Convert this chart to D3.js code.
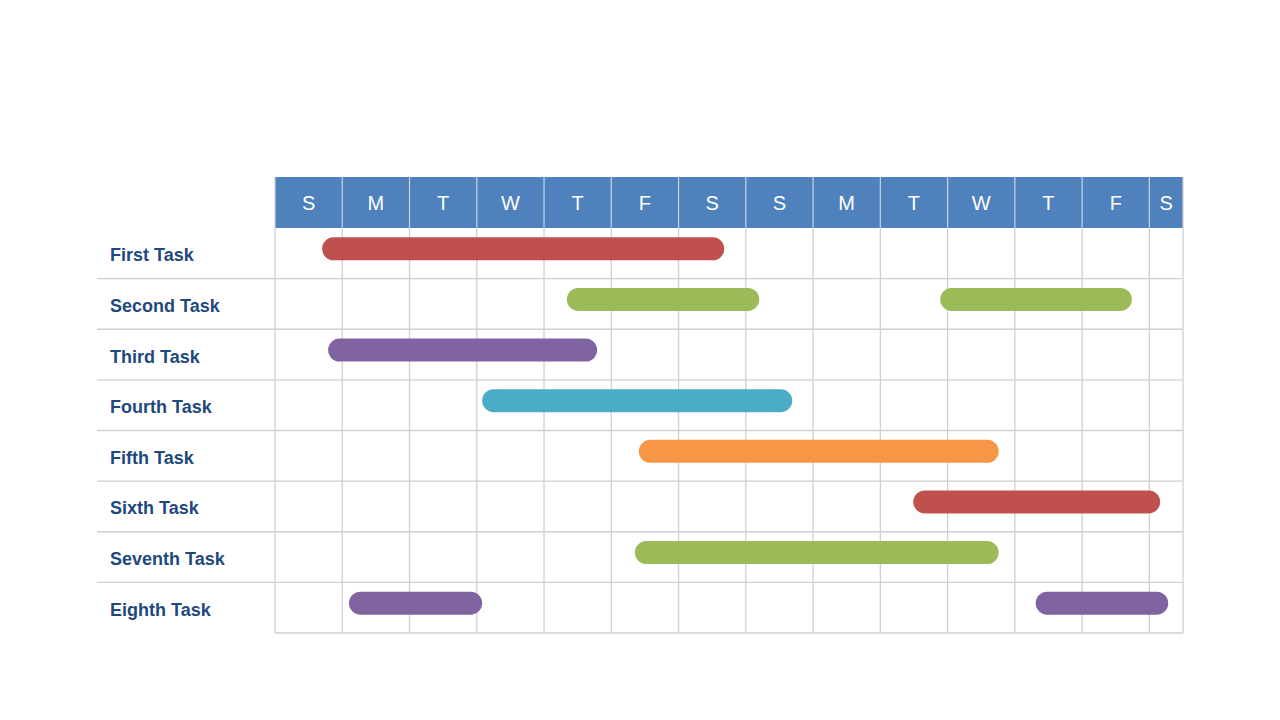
<!DOCTYPE html>
<html><head><meta charset="utf-8">
<script src="https://cdn.jsdelivr.net/npm/d3@7"></script>
<style>body{margin:0;background:#fff;}svg{display:block;}</style>
</head><body>
<svg id="chart" width="1280" height="720"></svg>
<script>
const days = ["S","M","T","W","T","F","S","S","M","T","W","T","F","S"];
const tasks = ["First Task","Second Task","Third Task","Fourth Task","Fifth Task","Sixth Task","Seventh Task","Eighth Task"];
// bars: [task index, start day, end day, color]
const barTask  = [0, 1, 1, 2, 3, 4, 5, 6, 7, 7];
const barStart = [0.70, 4.34, 9.89, 0.79, 3.08, 5.41, 9.49, 5.35, 1.10, 11.31];
const barEnd   = [6.68, 7.20, 12.74, 4.79, 7.69, 10.76, 13.16, 10.76, 3.08, 13.28];
const barColor = ["#C0504D","#9BBB59","#9BBB59","#8064A2","#4BACC6","#F79646","#C0504D","#9BBB59","#8064A2","#8064A2"];
const totalDays = 13.5;

const svg = d3.select("#chart");
const left = 275, right = 1183, labelLeft = 97;
const headTop = 177, headBottom = 228, gridBottom = 633;

const x = d3.scaleLinear().domain([0, totalDays]).range([left, right]);
const y = d3.scaleBand().domain(d3.range(tasks.length)).range([headBottom, gridBottom]);

// header
svg.append("rect").attr("x", left).attr("y", headTop).attr("width", right-left).attr("height", headBottom-headTop).attr("fill", "#4F81BD");
const dayG = svg.append("g");
days.forEach((d,i)=>{
  const x0 = x(i), x1 = x(Math.min(i+1, totalDays));
  dayG.append("text").attr("x",(x0+x1)/2).attr("y",(headTop+headBottom)/2+7)
    .attr("text-anchor","middle").attr("fill","#fff")
    .attr("font-family","Liberation Sans, Arial, sans-serif").attr("font-size",20).text(d);
  if(i>0) dayG.append("line").attr("x1",x0).attr("x2",x0).attr("y1",headTop).attr("y2",headBottom)
    .attr("stroke","#C9D3E3").attr("stroke-width",1.2);
});

// grid
const grid = svg.append("g").attr("stroke","#D0D0D0").attr("stroke-width",1.3);
for(let i=0;i<=13;i++){
  grid.append("line").attr("x1",x(i)).attr("x2",x(i)).attr("y1",i===0?headTop:headBottom).attr("y2",gridBottom);
}
grid.append("line").attr("x1",right).attr("x2",right).attr("y1",headTop).attr("y2",gridBottom);
for(let r=1;r<=tasks.length;r++){
  const yy = r===tasks.length ? gridBottom : y(r);
  grid.append("line").attr("x1", r===tasks.length?left:labelLeft).attr("x2",right).attr("y1",yy).attr("y2",yy);
}

// labels
svg.append("g").selectAll("text").data(tasks).join("text")
  .attr("x",110).attr("y",(d,i)=>y(i)+y.bandwidth()/2+8)
  .attr("fill","#1F497D").attr("font-weight","bold")
  .attr("font-family","Liberation Sans, Arial, sans-serif").attr("font-size",18)
  .text(d=>d);

// bars
const bh = 23;
svg.append("g").selectAll("rect").data(d3.range(barTask.length)).join("rect")
  .attr("x",i=>x(barStart[i])).attr("width",i=>x(barEnd[i])-x(barStart[i]))
  .attr("y",i=>y(barTask[i])+y.bandwidth()/2-4.5-bh/2).attr("height",bh)
  .attr("rx",bh/2).attr("ry",bh/2).attr("fill",i=>barColor[i]);
</script>
</body></html>
